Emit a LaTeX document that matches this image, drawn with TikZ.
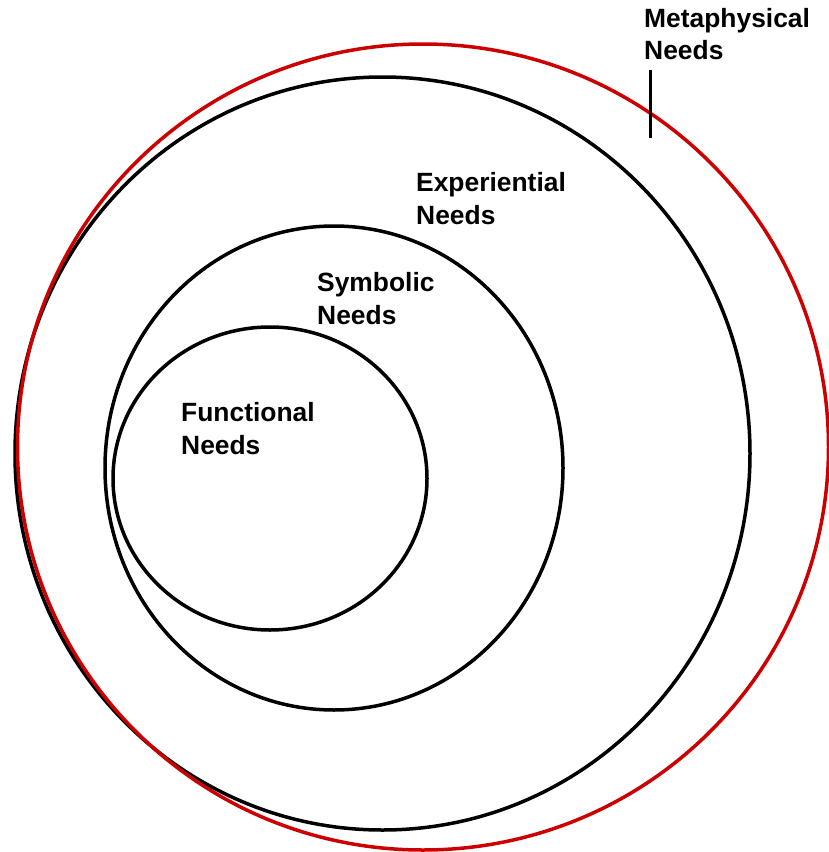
\documentclass[tikz,border=0pt]{standalone}
\usepackage{fontspec}
\setmainfont{Liberation Sans}
\definecolor{ringred}{HTML}{CC0000}
\begin{document}
\begin{tikzpicture}[x=1pt,y=-1pt,
  ring/.style={line width=3.5pt,draw=black},
  redring/.style={line width=3.5pt,draw=ringred},
  lbl/.style={anchor=base west,inner sep=0pt,align=left,font=\fontsize{26.4}{32.3}\selectfont\bfseries}]
\useasboundingbox (0,0) rectangle (828,852);
\draw[ring] (382.5,453.5) ellipse [x radius=367.5, y radius=376.5];
\draw[redring] (423,447) ellipse [x radius=405.5, y radius=403];
\draw[ring] (334,468) ellipse [x radius=229, y radius=242];
\draw[ring] (270,478.5) ellipse [x radius=157, y radius=151.5];
\node[lbl] (func) at (181,454) {Functional\\Needs};
\node[lbl] (symb) at (317,324) {Symbolic\\Needs};
\node[lbl] (expe) at (416,224) {Experiential\\Needs};
\node[lbl] (meta) at (644,59.3) {Metaphysical\\Needs};
\coordinate (ltop) at (650,70);
\coordinate (lbot) at (650,138);
\draw[line width=3pt] (ltop) -- (lbot);
\end{tikzpicture}
\end{document}
